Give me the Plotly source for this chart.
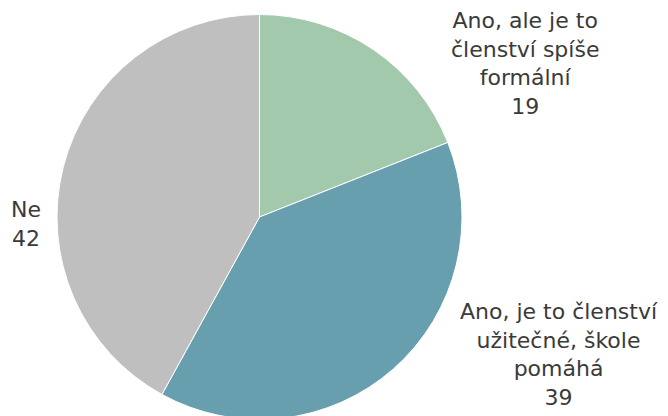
import plotly.graph_objects as go

labels = ["Ano, ale je to členství spíše formální",
          "Ano, je to členství užitečné, škole pomáhá",
          "Ne"]
label_lines = [["Ano, ale je to", "členství spíše", "formální"],
               ["Ano, je to členství", "užitečné, škole", "pomáhá"],
               ["Ne"]]
values = [19, 39, 42]
colors = ["#A3C9AD", "#679FAE", "#BFBFBF"]

W, H = 668, 416
# page body adds an 8px offset; positions below are in figure coordinates
cx, cy, r = 251.5, 209, 202.5

fig = go.Figure(go.Pie(
    labels=labels, values=values, sort=False, direction="clockwise", rotation=0,
    marker=dict(colors=colors, line=dict(color="white", width=1)),
    textinfo="none", hoverinfo="label+value",
    domain=dict(x=[(cx - r) / W, (cx + r) / W], y=[(H - cy - r) / H, (H - cy + r) / H]),
    showlegend=False,
))

label_pos = [(517, 56), (550.5, 346), (18, 215.5)]
for lines, v, (x, y) in zip(label_lines, values, label_pos):
    fig.add_annotation(
        x=x / W, y=1 - y / H, xref="paper", yref="paper",
        text="<br>".join(lines + [str(v)]), showarrow=False,
        xanchor="center", yanchor="middle", align="center",
        font=dict(family="DejaVu Sans, Verdana, sans-serif", size=22, color="#3a3a3a"),
    )

fig.update_layout(width=W, height=H, margin=dict(l=0, r=0, t=0, b=0),
                  paper_bgcolor="white", plot_bgcolor="white")
fig.write_html("out.html")
